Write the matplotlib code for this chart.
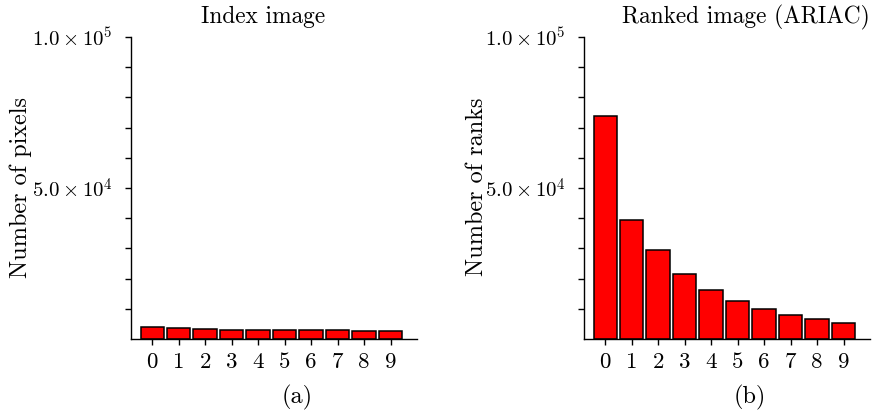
import matplotlib
matplotlib.use("Agg")
import matplotlib.pyplot as plt
import numpy as np

plt.rcParams["font.family"] = ["cmr10", "DejaVu Serif"]
plt.rcParams["mathtext.fontset"] = "cm"
plt.rcParams["axes.unicode_minus"] = False

# Histogram counts for the first ten values
categories = list(range(10))
index_counts = [4070, 3640, 3200, 3000, 2980, 2980, 2950, 2900, 2800, 2760]
ranked_counts = [73800, 39400, 29500, 21500, 16200, 12700, 10000, 8050, 6500, 5300]

titles = ["Index image", "Ranked image (ARIAC)"]
ylabels = ["Number of pixels", "Number of ranks"]
panel_tags = ["(a)", "(b)"]
ytick_vals = [5e4, 1e5]
ytick_labels = [r"$5.0\times10^{4}$", r"$1.0\times10^{5}$"]

W, H = 881, 415
fig = plt.figure(figsize=(W / 100, H / 100), dpi=100)

def px(x, y):
    return x / W, 1 - y / H

panels = [
    dict(left=131, counts=index_counts, title_x=263, ylabel_x=21),
    dict(left=584, counts=ranked_counts, title_x=746, ylabel_x=477),
]

for i, p in enumerate(panels):
    ax = fig.add_axes([p["left"] / W, (H - 339) / H, 286 / W, 302 / H])
    ax.bar(categories, p["counts"], width=0.88, color="#ff0000",
           edgecolor="black", linewidth=1.1, zorder=2)
    ax.set_xlim(-0.8, 10.0)
    ax.set_ylim(0, 1e5)
    for s in ["top", "right"]:
        ax.spines[s].set_visible(False)
    for s in ["left", "bottom"]:
        ax.spines[s].set_linewidth(1.0)
    ax.set_xticks(categories)
    ax.set_xticklabels([str(c) for c in categories], fontsize=16.5)
    ax.set_yticks(ytick_vals)
    ax.set_yticklabels(ytick_labels, fontsize=15)
    ax.set_yticks([k * 1e4 for k in range(1, 10) if k != 5], minor=True)
    ax.tick_params(axis="both", which="both", direction="out", length=4,
                   width=1.0, color="black")
    ax.tick_params(axis="x", pad=6)
    ax.tick_params(axis="y", pad=9)

    tx, ty = px(p["title_x"], 17)
    fig.text(tx, ty, titles[i], ha="center", va="center", fontsize=16.8)
    lx, ly = px(p["ylabel_x"], 187)
    fig.text(lx, ly, ylabels[i], ha="center", va="center", rotation=90,
             fontsize=17.5)
    ax_x, ax_y = px(p["left"] + 166, 397)
    fig.text(ax_x, ax_y, panel_tags[i], ha="center", va="center", fontsize=17.5)

fig.savefig("out.png", dpi=100)
